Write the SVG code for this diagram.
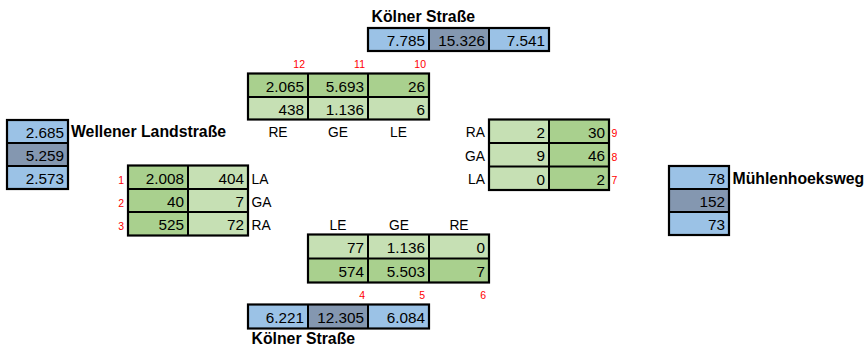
<svg xmlns="http://www.w3.org/2000/svg" width="867" height="347" viewBox="0 0 867 347">
<style>
.bg{fill:#ffffff}
.b1{fill:#9BC2E6}
.b2{fill:#8497B0}
.g1{fill:#C6E0B4}
.g2{fill:#A9D08E}
.frame{fill:none;stroke:#000;stroke-width:2.2}
.line{stroke:#000;stroke-width:2}
.num{font-family:"Liberation Sans",Arial,sans-serif;font-size:15.3px;fill:#000;text-anchor:end}
.title{font-family:"Liberation Sans",Arial,sans-serif;font-size:15.8px;font-weight:bold;fill:#000}
.lab{font-family:"Liberation Sans",Arial,sans-serif;font-size:13.8px;fill:#000}
.red{font-family:"Liberation Sans",Arial,sans-serif;font-size:10.5px;fill:#FF0000}
.mid{text-anchor:middle}
.end{text-anchor:end}
</style>
<rect class="bg" x="0" y="0" width="867" height="347"/>
<g id="connectors"/>

<g id="koelner-top">
<text class="title" x="371.5" y="22">Kölner Straße</text>
<rect class="b1" x="368" y="28" width="61" height="23"/>
<rect class="b2" x="429" y="28" width="60" height="23"/>
<rect class="b1" x="489" y="28" width="60" height="23"/>
<rect class="frame" x="368" y="28" width="181" height="23"/>
<line class="line" x1="429" y1="28" x2="429" y2="51"/>
<line class="line" x1="489" y1="28" x2="489" y2="51"/>
<text class="num" x="425" y="46">7.785</text>
<text class="num" x="485" y="46">15.326</text>
<text class="num" x="545" y="46">7.541</text>
</g>

<g id="entry-top">
<text class="red end" x="305" y="67.5">12</text>
<text class="red end" x="365" y="67.5">11</text>
<text class="red end" x="426" y="67.5">10</text>
<rect class="g2" x="248" y="73.5" width="181" height="23.5"/>
<rect class="g1" x="248" y="97" width="181" height="22.5"/>
<rect class="frame" x="248" y="73.5" width="181" height="46"/>
<line class="line" x1="248" y1="97" x2="429" y2="97"/>
<line class="line" x1="308" y1="73.5" x2="308" y2="119.5"/>
<line class="line" x1="368" y1="73.5" x2="368" y2="119.5"/>
<text class="num" x="304" y="91.5">2.065</text>
<text class="num" x="364" y="91.5">5.693</text>
<text class="num" x="425" y="91.5">26</text>
<text class="num" x="304" y="114.5">438</text>
<text class="num" x="364" y="114.5">1.136</text>
<text class="num" x="425" y="114.5">6</text>
<text class="lab mid" x="278" y="137">RE</text>
<text class="lab mid" x="338" y="137">GE</text>
<text class="lab mid" x="398.5" y="137">LE</text>
</g>

<g id="entry-right">
<rect class="g1" x="489" y="119.5" width="60" height="70.5"/>
<rect class="g2" x="549" y="119.5" width="60" height="70.5"/>
<rect class="frame" x="489" y="119.5" width="120" height="70.5"/>
<line class="line" x1="489" y1="143" x2="609" y2="143"/>
<line class="line" x1="489" y1="166.5" x2="609" y2="166.5"/>
<line class="line" x1="549" y1="119.5" x2="549" y2="190"/>
<text class="num" x="545" y="137.5">2</text>
<text class="num" x="605" y="137.5">30</text>
<text class="num" x="545" y="161">9</text>
<text class="num" x="605" y="161">46</text>
<text class="num" x="545" y="184.5">0</text>
<text class="num" x="605" y="184.5">2</text>
<text class="lab end" x="485" y="137">RA</text>
<text class="lab end" x="485" y="160.5">GA</text>
<text class="lab end" x="485" y="184">LA</text>
<text class="red" x="611.5" y="137">9</text>
<text class="red" x="611.5" y="160.5">8</text>
<text class="red" x="611.5" y="184">7</text>
</g>

<g id="muehlenhoeksweg">
<rect class="b1" x="669" y="166" width="60" height="23"/>
<rect class="b2" x="669" y="189" width="60" height="23"/>
<rect class="b1" x="669" y="212" width="60" height="23"/>
<rect class="frame" x="669" y="166" width="60" height="69"/>
<line class="line" x1="669" y1="189" x2="729" y2="189"/>
<line class="line" x1="669" y1="212" x2="729" y2="212"/>
<text class="num" x="725" y="184">78</text>
<text class="num" x="725" y="207">152</text>
<text class="num" x="725" y="230">73</text>
<text class="title" x="732.5" y="183.5">Mühlenhoeksweg</text>
</g>

<g id="wellener-landstrasse">
<rect class="b1" x="7" y="120" width="61" height="23"/>
<rect class="b2" x="7" y="143" width="61" height="23"/>
<rect class="b1" x="7" y="166" width="61" height="23"/>
<rect class="frame" x="7" y="120" width="61" height="69"/>
<line class="line" x1="7" y1="143" x2="68" y2="143"/>
<line class="line" x1="7" y1="166" x2="68" y2="166"/>
<text class="num" x="64" y="138">2.685</text>
<text class="num" x="64" y="161">5.259</text>
<text class="num" x="64" y="184">2.573</text>
<text class="title" x="71" y="137">Wellener Landstraße</text>
</g>

<g id="entry-left">
<rect class="g2" x="128" y="165.5" width="60" height="70"/>
<rect class="g1" x="188" y="165.5" width="60" height="70"/>
<rect class="frame" x="128" y="165.5" width="120" height="70"/>
<line class="line" x1="128" y1="189" x2="248" y2="189"/>
<line class="line" x1="128" y1="212" x2="248" y2="212"/>
<line class="line" x1="188" y1="165.5" x2="188" y2="235.5"/>
<text class="num" x="184" y="184">2.008</text>
<text class="num" x="244" y="184">404</text>
<text class="num" x="184" y="207">40</text>
<text class="num" x="244" y="207">7</text>
<text class="num" x="184" y="230">525</text>
<text class="num" x="244" y="230">72</text>
<text class="lab" x="251.5" y="183.5">LA</text>
<text class="lab" x="251.5" y="206.5">GA</text>
<text class="lab" x="251.5" y="229.5">RA</text>
<text class="red end" x="124" y="183.5">1</text>
<text class="red end" x="124" y="206.5">2</text>
<text class="red end" x="124" y="229.5">3</text>
</g>

<g id="entry-bottom">
<text class="lab mid" x="338" y="230">LE</text>
<text class="lab mid" x="399" y="230">GE</text>
<text class="lab mid" x="459" y="230">RE</text>
<rect class="g1" x="308" y="234.5" width="181" height="24"/>
<rect class="g2" x="308" y="258.5" width="181" height="24"/>
<rect class="frame" x="308" y="234.5" width="181" height="48"/>
<line class="line" x1="308" y1="258.5" x2="489" y2="258.5"/>
<line class="line" x1="368" y1="234.5" x2="368" y2="282.5"/>
<line class="line" x1="429" y1="234.5" x2="429" y2="282.5"/>
<text class="num" x="364" y="253">77</text>
<text class="num" x="425" y="253">1.136</text>
<text class="num" x="485" y="253">0</text>
<text class="num" x="364" y="277">574</text>
<text class="num" x="425" y="277">5.503</text>
<text class="num" x="485" y="277">7</text>
<text class="red end" x="365" y="299">4</text>
<text class="red end" x="425" y="299">5</text>
<text class="red end" x="486" y="299">6</text>
</g>

<g id="koelner-bottom">
<rect class="b1" x="248" y="304.5" width="60" height="24"/>
<rect class="b2" x="308" y="304.5" width="60" height="24"/>
<rect class="b1" x="368" y="304.5" width="61" height="24"/>
<rect class="frame" x="248" y="304.5" width="181" height="24"/>
<line class="line" x1="308" y1="304.5" x2="308" y2="328.5"/>
<line class="line" x1="368" y1="304.5" x2="368" y2="328.5"/>
<text class="num" x="304" y="323">6.221</text>
<text class="num" x="364" y="323">12.305</text>
<text class="num" x="425" y="323">6.084</text>
<text class="title" x="251.5" y="344">Kölner Straße</text>
</g>
</svg>
